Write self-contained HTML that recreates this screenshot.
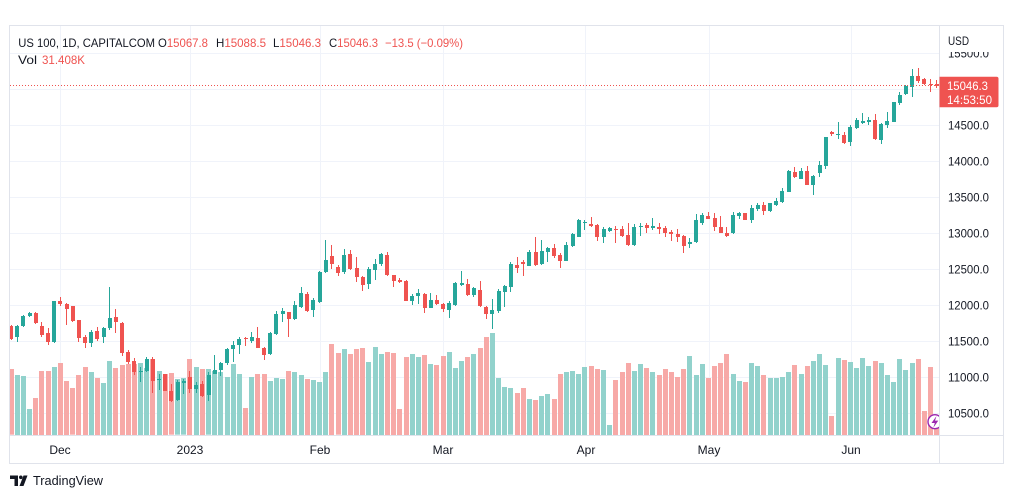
<!DOCTYPE html>
<html><head><meta charset="utf-8">
<style>
html,body{margin:0;padding:0;background:#fff;}
#wrap{position:relative;width:1012px;height:498px;overflow:hidden;background:#fff;font-family:"Liberation Sans",Arial,sans-serif;}
svg{position:absolute;left:0;top:0;}
#under{z-index:0}
#clip{position:absolute;left:10px;top:26px;width:929px;height:409px;overflow:hidden;z-index:1}
#row{position:absolute;left:-2.086px;top:-26px;width:1000px;height:498px;display:flex;}
#row i{flex:0 0 6.171875px;position:relative;height:498px;
 background:linear-gradient(var(--vc),var(--vc)) no-repeat;
 background-position:0.586px calc(var(--v)*1px);
 background-size:5px calc(435px - var(--v)*1px);}
#row i::before{content:"";position:absolute;left:2.586px;width:1px;top:calc(var(--h)*1px);height:calc((var(--l) - var(--h))*1px);background:var(--cc);}
#row i::after{content:"";position:absolute;left:1.086px;width:4px;top:calc(var(--t)*1px);height:max(1px,calc((var(--b) - var(--t))*1px));background:var(--cc);}
#row i.g{--cc:#26a69a;--vc:#92d2cc}
#row i.r{--cc:#ef5350;--vc:#f7a9a7}
#over{z-index:2}
</style></head>
<body>
<div id="wrap">
<svg id="under" width="1012" height="498" xmlns="http://www.w3.org/2000/svg">
<g stroke="#f0f3fa" stroke-width="1">
<line x1="10" y1="53.5" x2="939" y2="53.5"/>
<line x1="10" y1="89.5" x2="939" y2="89.5"/>
<line x1="10" y1="125.5" x2="939" y2="125.5"/>
<line x1="10" y1="161.5" x2="939" y2="161.5"/>
<line x1="10" y1="197.5" x2="939" y2="197.5"/>
<line x1="10" y1="233.5" x2="939" y2="233.5"/>
<line x1="10" y1="269.5" x2="939" y2="269.5"/>
<line x1="10" y1="305.5" x2="939" y2="305.5"/>
<line x1="10" y1="341.5" x2="939" y2="341.5"/>
<line x1="10" y1="377.5" x2="939" y2="377.5"/>
<line x1="10" y1="413.5" x2="939" y2="413.5"/>
<line x1="60.5" y1="26" x2="60.5" y2="435"/>
<line x1="190.5" y1="26" x2="190.5" y2="435"/>
<line x1="320.5" y1="26" x2="320.5" y2="435"/>
<line x1="443.5" y1="26" x2="443.5" y2="435"/>
<line x1="585.5" y1="26" x2="585.5" y2="435"/>
<line x1="709.5" y1="26" x2="709.5" y2="435"/>
<line x1="851.5" y1="26" x2="851.5" y2="435"/>
</g>
</svg>
<div id="clip"><div id="row">
<i class="r" style="--t:326;--b:339;--h:325;--l:340;--v:369.3"></i>
<i class="g" style="--t:326;--b:337;--h:325;--l:342;--v:374.7"></i>
<i class="g" style="--t:316;--b:325.7;--h:315;--l:326.7;--v:376"></i>
<i class="g" style="--t:312.7;--b:316;--h:312;--l:316.7;--v:408.7"></i>
<i class="r" style="--t:312.7;--b:323.3;--h:312;--l:324;--v:397.7"></i>
<i class="r" style="--t:326;--b:335;--h:322.3;--l:336.7;--v:370.7"></i>
<i class="r" style="--t:333.3;--b:341.7;--h:328.3;--l:345;--v:370.7"></i>
<i class="g" style="--t:301;--b:342;--h:301;--l:342.7;--v:366.7"></i>
<i class="r" style="--t:301;--b:304.3;--h:297.3;--l:306;--v:362.7"></i>
<i class="r" style="--t:304;--b:309;--h:303.3;--l:325;--v:380.7"></i>
<i class="r" style="--t:306;--b:320.7;--h:306;--l:321.7;--v:388.3"></i>
<i class="r" style="--t:320;--b:337.7;--h:320;--l:341.7;--v:374.7"></i>
<i class="r" style="--t:336.7;--b:342.7;--h:335;--l:347.7;--v:366.7"></i>
<i class="g" style="--t:331.7;--b:342.7;--h:330;--l:346.7;--v:371.7"></i>
<i class="r" style="--t:331;--b:339;--h:326.7;--l:341;--v:377.7"></i>
<i class="g" style="--t:327.7;--b:337.3;--h:326.7;--l:342.7;--v:382.7"></i>
<i class="g" style="--t:317.7;--b:328.3;--h:286.7;--l:330;--v:361"></i>
<i class="r" style="--t:316.7;--b:322.3;--h:309;--l:333.3;--v:367.7"></i>
<i class="r" style="--t:322.7;--b:353.3;--h:321.7;--l:356;--v:365"></i>
<i class="r" style="--t:351.7;--b:362.3;--h:350;--l:364;--v:364"></i>
<i class="r" style="--t:361;--b:372.3;--h:358.3;--l:375;--v:364"></i>
<i class="g" style="--t:370.5;--b:372;--h:367;--l:381.7;--v:362.7"></i>
<i class="g" style="--t:359;--b:370.7;--h:357.3;--l:371.7;--v:368"></i>
<i class="r" style="--t:359;--b:381;--h:357.3;--l:392.7;--v:358.7"></i>
<i class="g" style="--t:379;--b:380.3;--h:374;--l:390;--v:370.7"></i>
<i class="r" style="--t:374;--b:390.7;--h:374;--l:391;--v:374"></i>
<i class="r" style="--t:390.7;--b:400.7;--h:384;--l:401.7;--v:373.3"></i>
<i class="g" style="--t:381.7;--b:400;--h:380;--l:400.7;--v:379.3"></i>
<i class="g" style="--t:381;--b:382.5;--h:379;--l:394;--v:378.3"></i>
<i class="r" style="--t:376.7;--b:389.3;--h:370.7;--l:393.3;--v:359"></i>
<i class="g" style="--t:385;--b:388.7;--h:381.7;--l:393.3;--v:366.7"></i>
<i class="r" style="--t:384;--b:395.7;--h:380.7;--l:397.3;--v:369"></i>
<i class="g" style="--t:375;--b:395;--h:371.7;--l:400.7;--v:369.3"></i>
<i class="g" style="--t:370;--b:374;--h:355;--l:374;--v:371"></i>
<i class="g" style="--t:362.7;--b:370;--h:361.7;--l:375.7;--v:371.7"></i>
<i class="g" style="--t:349.3;--b:363.3;--h:348.3;--l:365;--v:376.7"></i>
<i class="g" style="--t:345;--b:349.3;--h:341;--l:361.7;--v:364"></i>
<i class="g" style="--t:338.7;--b:345.3;--h:337.3;--l:354;--v:374"></i>
<i class="r" style="--t:337.5;--b:339;--h:336.7;--l:345.7;--v:407.7"></i>
<i class="g" style="--t:337.3;--b:340.7;--h:332.3;--l:343.3;--v:376.7"></i>
<i class="r" style="--t:338;--b:347.7;--h:327.3;--l:347.7;--v:374"></i>
<i class="r" style="--t:347.7;--b:355;--h:346.7;--l:360;--v:374"></i>
<i class="g" style="--t:332.7;--b:354;--h:331.7;--l:355;--v:381"></i>
<i class="g" style="--t:314;--b:333.7;--h:311;--l:335;--v:377.7"></i>
<i class="g" style="--t:311;--b:314;--h:308.3;--l:321.7;--v:379"></i>
<i class="r" style="--t:312.3;--b:319.3;--h:312.3;--l:337.3;--v:371"></i>
<i class="g" style="--t:305;--b:319.3;--h:300.7;--l:320;--v:372"></i>
<i class="g" style="--t:293.3;--b:306.7;--h:286.7;--l:307.7;--v:375"></i>
<i class="r" style="--t:294.3;--b:311;--h:291.7;--l:311.7;--v:379"></i>
<i class="g" style="--t:300;--b:310.3;--h:298.3;--l:317.3;--v:380"></i>
<i class="g" style="--t:271.7;--b:301.7;--h:270.7;--l:302.7;--v:381.7"></i>
<i class="g" style="--t:260;--b:272.3;--h:240;--l:273.3;--v:371.7"></i>
<i class="r" style="--t:256;--b:264.3;--h:245;--l:269;--v:344"></i>
<i class="r" style="--t:266.7;--b:273.3;--h:265;--l:276;--v:353.3"></i>
<i class="g" style="--t:255;--b:271.7;--h:249.3;--l:274.3;--v:349"></i>
<i class="r" style="--t:254.3;--b:269;--h:250;--l:270;--v:354"></i>
<i class="r" style="--t:267.7;--b:276.7;--h:256.7;--l:281.7;--v:349"></i>
<i class="r" style="--t:276.7;--b:285;--h:276;--l:290.7;--v:348"></i>
<i class="g" style="--t:269;--b:284.3;--h:266.7;--l:289.3;--v:362"></i>
<i class="g" style="--t:264;--b:270;--h:259.3;--l:280;--v:347"></i>
<i class="g" style="--t:254;--b:264.3;--h:253.3;--l:265.7;--v:354"></i>
<i class="r" style="--t:255;--b:275;--h:251.7;--l:275.7;--v:352"></i>
<i class="r" style="--t:275;--b:280.7;--h:275;--l:287.3;--v:353"></i>
<i class="r" style="--t:280;--b:281.7;--h:278.3;--l:283.3;--v:409"></i>
<i class="r" style="--t:281;--b:300.7;--h:280;--l:300.7;--v:357"></i>
<i class="g" style="--t:295.7;--b:300.7;--h:294.3;--l:305;--v:354"></i>
<i class="g" style="--t:293.3;--b:295.7;--h:289.3;--l:304;--v:357"></i>
<i class="r" style="--t:294.3;--b:307.7;--h:293.3;--l:312.7;--v:355"></i>
<i class="g" style="--t:300;--b:307.7;--h:292.7;--l:308.3;--v:364"></i>
<i class="r" style="--t:300;--b:304.3;--h:295;--l:305.3;--v:365"></i>
<i class="r" style="--t:304;--b:309;--h:302.7;--l:311.7;--v:356"></i>
<i class="g" style="--t:302.7;--b:310;--h:300.7;--l:318.3;--v:352"></i>
<i class="g" style="--t:282.7;--b:305.3;--h:281.7;--l:306;--v:368"></i>
<i class="g" style="--t:282.7;--b:285;--h:271;--l:286;--v:361"></i>
<i class="r" style="--t:284;--b:295;--h:279.3;--l:296;--v:357"></i>
<i class="g" style="--t:288.3;--b:295;--h:287.3;--l:297.3;--v:354"></i>
<i class="r" style="--t:290;--b:306;--h:281;--l:307.3;--v:348"></i>
<i class="r" style="--t:306.7;--b:314.3;--h:306;--l:319.3;--v:336.7"></i>
<i class="g" style="--t:310;--b:314.3;--h:299;--l:328.7;--v:332.7"></i>
<i class="g" style="--t:291;--b:310.7;--h:289.3;--l:312.7;--v:378"></i>
<i class="g" style="--t:285.7;--b:291.7;--h:285;--l:307.3;--v:387"></i>
<i class="g" style="--t:264;--b:286.7;--h:261.7;--l:291.7;--v:388.3"></i>
<i class="r" style="--t:265;--b:268.3;--h:257.3;--l:272.7;--v:392.7"></i>
<i class="r" style="--t:261.7;--b:264;--h:260;--l:275.7;--v:388"></i>
<i class="g" style="--t:251.7;--b:265.7;--h:250;--l:265.7;--v:399"></i>
<i class="r" style="--t:252.3;--b:265;--h:237.3;--l:265.7;--v:400"></i>
<i class="g" style="--t:251;--b:264.3;--h:240;--l:265;--v:396"></i>
<i class="g" style="--t:247.7;--b:251.7;--h:247.3;--l:262.3;--v:394"></i>
<i class="r" style="--t:247.7;--b:255.7;--h:244.3;--l:258.3;--v:399"></i>
<i class="r" style="--t:255;--b:260.7;--h:253.3;--l:267.7;--v:373.7"></i>
<i class="g" style="--t:245;--b:260.7;--h:242.3;--l:261;--v:372"></i>
<i class="g" style="--t:234.3;--b:245.7;--h:233.3;--l:246.7;--v:371"></i>
<i class="g" style="--t:220;--b:236.7;--h:219;--l:237.3;--v:373.7"></i>
<i class="g" style="--t:222;--b:223.3;--h:220;--l:230;--v:366.7"></i>
<i class="r" style="--t:224;--b:226;--h:217.3;--l:227.3;--v:365.7"></i>
<i class="r" style="--t:225;--b:236.7;--h:224;--l:240.7;--v:368.7"></i>
<i class="g" style="--t:229;--b:236.7;--h:227.3;--l:243.3;--v:370"></i>
<i class="g" style="--t:227.7;--b:231;--h:227.3;--l:231.7;--v:425"></i>
<i class="r" style="--t:228.7;--b:230;--h:226;--l:242.7;--v:380"></i>
<i class="r" style="--t:229.3;--b:235.7;--h:226;--l:236.7;--v:372"></i>
<i class="r" style="--t:235;--b:245;--h:223.3;--l:245.7;--v:362.7"></i>
<i class="g" style="--t:227.3;--b:245;--h:224;--l:246;--v:371"></i>
<i class="g" style="--t:226;--b:227.3;--h:222.7;--l:235.7;--v:363.7"></i>
<i class="r" style="--t:225;--b:227.7;--h:223.3;--l:233.3;--v:368"></i>
<i class="g" style="--t:226;--b:227.7;--h:218.3;--l:230;--v:372"></i>
<i class="r" style="--t:226.7;--b:229;--h:223.3;--l:234.3;--v:375"></i>
<i class="r" style="--t:228.3;--b:233.3;--h:225.7;--l:237.3;--v:369"></i>
<i class="r" style="--t:232.3;--b:234;--h:230;--l:240.7;--v:372"></i>
<i class="r" style="--t:234;--b:237.3;--h:229.3;--l:241.7;--v:377"></i>
<i class="r" style="--t:236;--b:245.7;--h:235;--l:252.7;--v:369"></i>
<i class="g" style="--t:241.7;--b:244.3;--h:238.3;--l:248.3;--v:356"></i>
<i class="g" style="--t:220;--b:241.7;--h:214;--l:242.7;--v:375"></i>
<i class="g" style="--t:215;--b:223.3;--h:213.3;--l:225;--v:364"></i>
<i class="r" style="--t:216;--b:219;--h:212.3;--l:219;--v:378"></i>
<i class="r" style="--t:218.3;--b:226.7;--h:213.3;--l:230.7;--v:366"></i>
<i class="r" style="--t:226.7;--b:232.7;--h:216;--l:233.3;--v:363"></i>
<i class="r" style="--t:232.7;--b:236;--h:226.7;--l:236.7;--v:353.7"></i>
<i class="g" style="--t:215;--b:233.3;--h:212.3;--l:234;--v:374"></i>
<i class="g" style="--t:212.7;--b:215.7;--h:211.7;--l:219;--v:381"></i>
<i class="r" style="--t:212.7;--b:220;--h:212.7;--l:220;--v:382"></i>
<i class="g" style="--t:207.7;--b:220;--h:205;--l:222.7;--v:363"></i>
<i class="g" style="--t:205;--b:209.3;--h:203.3;--l:210.7;--v:366"></i>
<i class="r" style="--t:205;--b:210.7;--h:201.7;--l:215;--v:375"></i>
<i class="g" style="--t:203.3;--b:210.7;--h:202.7;--l:211.7;--v:378"></i>
<i class="g" style="--t:200.7;--b:205;--h:197.7;--l:206;--v:378"></i>
<i class="g" style="--t:191;--b:201.7;--h:188.3;--l:202.7;--v:377"></i>
<i class="g" style="--t:171;--b:191.7;--h:170;--l:192.3;--v:371.7"></i>
<i class="r" style="--t:172.3;--b:176.7;--h:167.3;--l:178.3;--v:365"></i>
<i class="g" style="--t:171;--b:179;--h:168.3;--l:179.3;--v:374"></i>
<i class="r" style="--t:171;--b:185;--h:166;--l:185;--v:366"></i>
<i class="g" style="--t:176;--b:185;--h:175;--l:195;--v:361"></i>
<i class="g" style="--t:165;--b:173.3;--h:161;--l:177.3;--v:354"></i>
<i class="g" style="--t:137.3;--b:166;--h:136.7;--l:169;--v:365"></i>
<i class="r" style="--t:132.3;--b:134;--h:130.7;--l:136;--v:416"></i>
<i class="g" style="--t:134;--b:135.3;--h:121.7;--l:139;--v:357.7"></i>
<i class="r" style="--t:135;--b:143.3;--h:131.7;--l:144.3;--v:360"></i>
<i class="g" style="--t:127.3;--b:142.3;--h:125;--l:146;--v:362"></i>
<i class="g" style="--t:120;--b:127.7;--h:117.7;--l:129;--v:368"></i>
<i class="g" style="--t:120.7;--b:122.7;--h:112.7;--l:124;--v:357.7"></i>
<i class="g" style="--t:120;--b:121.7;--h:117.3;--l:125;--v:366"></i>
<i class="r" style="--t:120;--b:139.3;--h:114;--l:140;--v:361"></i>
<i class="g" style="--t:124.3;--b:140;--h:123.3;--l:144;--v:363"></i>
<i class="g" style="--t:121;--b:125;--h:112.3;--l:128.3;--v:374.7"></i>
<i class="g" style="--t:102.3;--b:121.7;--h:101.7;--l:122.3;--v:382"></i>
<i class="g" style="--t:95;--b:102.7;--h:92.3;--l:105;--v:359"></i>
<i class="g" style="--t:85.7;--b:94.3;--h:85;--l:95;--v:370"></i>
<i class="g" style="--t:76;--b:86.7;--h:69.3;--l:97.3;--v:363"></i>
<i class="r" style="--t:76;--b:80.7;--h:68.3;--l:82.7;--v:359"></i>
<i class="r" style="--t:79;--b:84.3;--h:78.3;--l:85;--v:410.7"></i>
<i class="r" style="--t:83.5;--b:84.5;--h:79;--l:91.7;--v:366.7"></i>
<i class="r" style="--t:83.5;--b:85.5;--h:80;--l:88;--v:428"></i>
</div></div>
<svg id="over" width="1012" height="498" xmlns="http://www.w3.org/2000/svg" font-family="Liberation Sans, Arial, sans-serif">
<defs><clipPath id="cl"><rect x="10" y="26" width="929" height="409"/></clipPath></defs>
<line x1="10" y1="85.5" x2="939" y2="85.5" stroke="#ef5350" stroke-width="1" stroke-dasharray="1 2"/>
<g clip-path="url(#cl)">
<circle cx="935" cy="421.7" r="7" fill="#fff" stroke="#9c27b0" stroke-width="1.4"/>
<polygon points="936.5,416 931.5,423 934.8,423 933.3,427.8 938.3,420.6 935,420.6" fill="#9c27b0"/>
</g>
<rect x="940" y="26" width="63" height="437" fill="#fff"/>
<rect x="10" y="436" width="930" height="27" fill="#fff"/>
<rect x="9.5" y="25.5" width="994" height="438" fill="none" stroke="#e0e3eb" stroke-width="1"/>
<line x1="939.5" y1="25" x2="939.5" y2="464" stroke="#e0e3eb"/>
<line x1="10" y1="435.5" x2="1003" y2="435.5" stroke="#e0e3eb"/>
<g font-size="11.5" fill="#131722">
<text x="948" y="57.3" textLength="41" lengthAdjust="spacingAndGlyphs">15500.0</text>
<text x="948" y="129.3" textLength="41" lengthAdjust="spacingAndGlyphs">14500.0</text>
<text x="948" y="165.3" textLength="41" lengthAdjust="spacingAndGlyphs">14000.0</text>
<text x="948" y="201.3" textLength="41" lengthAdjust="spacingAndGlyphs">13500.0</text>
<text x="948" y="237.3" textLength="41" lengthAdjust="spacingAndGlyphs">13000.0</text>
<text x="948" y="273.3" textLength="41" lengthAdjust="spacingAndGlyphs">12500.0</text>
<text x="948" y="309.3" textLength="41" lengthAdjust="spacingAndGlyphs">12000.0</text>
<text x="948" y="345.3" textLength="41" lengthAdjust="spacingAndGlyphs">11500.0</text>
<text x="948" y="381.3" textLength="41" lengthAdjust="spacingAndGlyphs">11000.0</text>
<text x="948" y="417.3" textLength="41" lengthAdjust="spacingAndGlyphs">10500.0</text>
</g>
<rect x="940" y="26" width="63" height="26" fill="#fff"/>
<text x="948" y="44.8" font-size="11.5" fill="#131722" textLength="21" lengthAdjust="spacingAndGlyphs">USD</text>
<path d="M939.5 76.7 H996.5 Q998.5 76.7 998.5 78.7 V105.3 Q998.5 107.3 996.5 107.3 H939.5 Z" fill="#ef5350"/>
<text x="947" y="90.2" font-size="11.5" fill="#fff" textLength="41" lengthAdjust="spacingAndGlyphs">15046.3</text>
<text x="947" y="103.8" font-size="11.5" fill="#fff" textLength="45" lengthAdjust="spacingAndGlyphs">14:53:50</text>
<g font-size="12" fill="#131722" text-anchor="middle">
<text x="60" y="454">Dec</text>
<text x="190" y="454">2023</text>
<text x="320" y="454">Feb</text>
<text x="443" y="454">Mar</text>
<text x="586" y="454">Apr</text>
<text x="709" y="454">May</text>
<text x="851" y="454">Jun</text>
</g>
<g font-size="12" fill="#131722">
<text x="18.3" y="47" textLength="136.7" lengthAdjust="spacingAndGlyphs">US 100, 1D, CAPITALCOM</text>
<text x="158" y="47" textLength="50" lengthAdjust="spacingAndGlyphs">O<tspan fill="#ef5350">15067.8</tspan></text>
<text x="216" y="47" textLength="50" lengthAdjust="spacingAndGlyphs">H<tspan fill="#ef5350">15088.5</tspan></text>
<text x="273" y="47" textLength="48" lengthAdjust="spacingAndGlyphs">L<tspan fill="#ef5350">15046.3</tspan></text>
<text x="329" y="47" textLength="49" lengthAdjust="spacingAndGlyphs">C<tspan fill="#ef5350">15046.3</tspan></text>
<text x="385" y="47" fill="#ef5350" textLength="78" lengthAdjust="spacingAndGlyphs">−13.5 (−0.09%)</text>
<text x="18" y="64" textLength="19" lengthAdjust="spacingAndGlyphs">Vol</text>
<text x="42" y="64" fill="#ef5350" textLength="43" lengthAdjust="spacingAndGlyphs">31.408K</text>
</g>
<g fill="#131722">
<path d="M10 475.5 H18 V486 H14.5 V479 H10 Z"/>
<circle cx="20.8" cy="477.3" r="1.8"/>
<path d="M23.5 475.5 H27.5 L23.5 486 H19.5 Z"/>
</g>
<text x="33" y="485" font-size="13" fill="#131722" textLength="70" lengthAdjust="spacingAndGlyphs">TradingView</text>
</svg>
</div>
</body></html>
